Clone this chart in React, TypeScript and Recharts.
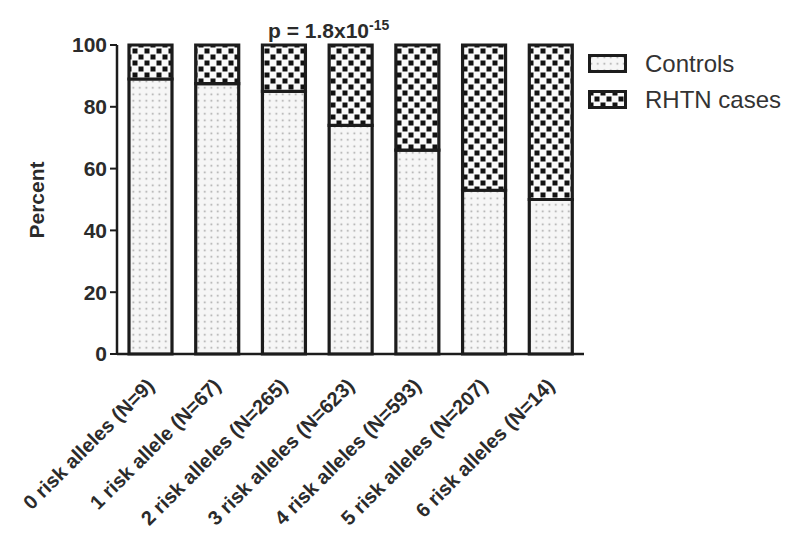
import React from "react";
import { Bar, BarChart, XAxis, YAxis } from "recharts";

const categories = [
  "0 risk alleles (N=9)",
  "1 risk allele (N=67)",
  "2 risk alleles (N=265)",
  "3 risk alleles (N=623)",
  "4 risk alleles (N=593)",
  "5 risk alleles (N=207)",
  "6 risk alleles (N=14)",
];
const controls = [89, 87.5, 85, 74, 66, 53, 50];
const rhtnCases = [11, 12.5, 15, 26, 34, 47, 50];
const yTicks = [0, 20, 40, 60, 80, 100];

const data = categories.map((name, i) => ({
  name,
  controls: controls[i],
  cases: rhtnCases[i],
}));

const FONT = "Arial, 'Liberation Sans', Helvetica, sans-serif";
const INK = "#1c1c1c";
const TEXT = "#2b2b2b";

function CategoryTick({ x, y, payload }: any) {
  return (
    <g transform={`translate(${x + 5},${y + 33})`}>
      <text
        textAnchor="end"
        transform="rotate(-45)"
        fontSize={20}
        fontWeight="bold"
        fontFamily={FONT}
        fill={TEXT}
      >
        {payload.value}
      </text>
    </g>
  );
}

function LegendBox() {
  const items = [
    { label: "Controls", fill: "url(#dots)" },
    { label: "RHTN cases", fill: "url(#checks)" },
  ];
  return (
    <div style={{ position: "absolute", left: 588, top: 46, fontFamily: FONT, fontSize: 24, color: "#333" }}>
      {items.map((it) => (
        <div key={it.label} style={{ display: "flex", alignItems: "center", height: 36 }}>
          <svg width={40} height={20} style={{ marginRight: 17 }}>
            <rect x={1.5} y={1.5} width={36} height={16} fill={it.fill} stroke={INK} strokeWidth={3} />
          </svg>
          <span>{it.label}</span>
        </div>
      ))}
    </div>
  );
}

// stacked percent bars: controls vs RHTN cases by number of risk alleles
export default function App() {
  return (
    <div style={{ position: "absolute", left: 0, top: 0, width: 800, height: 540, background: "#fff" }}>
      <BarChart
        width={800}
        height={540}
        data={data}
        margin={{ top: 45, right: 216, bottom: 0, left: 57 }}
        barSize={43}
      >
        <defs>
          <pattern id="dots" width="6.5" height="6.5" patternUnits="userSpaceOnUse">
            <rect width="6.5" height="6.5" fill="#f6f6f6" />
            <rect x="2.5" y="2.5" width="1.6" height="1.6" fill="#a0a0a0" />
          </pattern>
          <pattern id="checks" width="12" height="12" patternUnits="userSpaceOnUse">
            <rect width="12" height="12" fill="#fafafa" />
            <rect x="0.5" y="0.5" width="5" height="5" fill="#111" />
            <rect x="6.5" y="6.5" width="5" height="5" fill="#111" />
          </pattern>
        </defs>
        <XAxis
          dataKey="name"
          height={186}
          interval={0}
          tickLine={false}
          tickSize={0}
          tickMargin={0}
          axisLine={{ stroke: INK, strokeWidth: 2.5 }}
          tick={<CategoryTick />}
        />
        <YAxis
          width={60}
          domain={[0, 100]}
          ticks={yTicks}
          tickSize={7}
          tickMargin={3}
          axisLine={{ stroke: INK, strokeWidth: 2.5 }}
          tickLine={{ stroke: INK, strokeWidth: 2 }}
          tick={{ fontSize: 21, fontWeight: "bold", fontFamily: FONT, fill: TEXT }}
          label={{
            content: () => (
              <text
                x={36}
                y={200}
                transform="rotate(-90 36 200)"
                textAnchor="middle"
                dominantBaseline="central"
                fontSize={21}
                fontWeight="bold"
                fontFamily={FONT}
                fill={TEXT}
              >
                Percent
              </text>
            ),
          }}
        />
        <Bar dataKey="controls" stackId="a" fill="url(#dots)" stroke={INK} strokeWidth={3.2} isAnimationActive={false} />
        <Bar dataKey="cases" stackId="a" fill="url(#checks)" stroke={INK} strokeWidth={3.2} isAnimationActive={false} />
      </BarChart>
      <div
        style={{
          position: "absolute",
          left: 268,
          top: 13,
          fontFamily: FONT,
          fontSize: 21,
          fontWeight: "bold",
          color: TEXT,
          lineHeight: "24px",
          whiteSpace: "nowrap",
        }}
      >
        p = 1.8x10<sup style={{ fontSize: 14, verticalAlign: "8px" }}>-15</sup>
      </div>
      <LegendBox />
    </div>
  );
}
